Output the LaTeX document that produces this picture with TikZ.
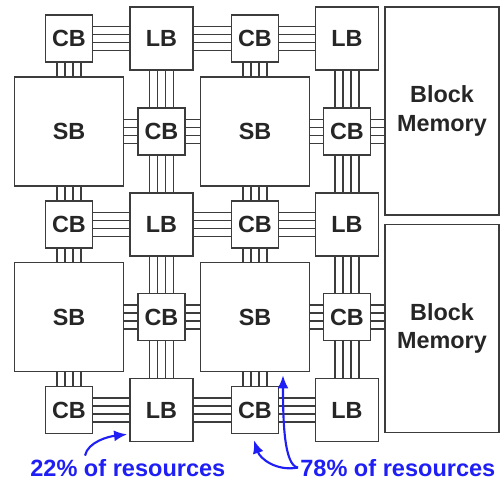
\documentclass[tikz,border=0pt]{standalone}
\usepackage{fontspec}
\setmainfont{Liberation Sans}
\usetikzlibrary{calc,arrows.meta}

\definecolor{boxgray}{RGB}{60,60,60}
\definecolor{resblue}{RGB}{30,30,245}

% buses of four wires between two blocks
\newcommand\hbus[2]{\foreach \d in {-12,-4,4,12} \draw[wire] ($(#1.east)+(0,\d)$) -- ($(#2.west |- #1.east)+(0,\d)$);}
\newcommand\vbus[2]{\foreach \d in {-12,-4,4,12} \draw[wire] ($(#1.south)+(\d,0)$) -- ($(#2.north -| #1.south)+(\d,0)$);}

\begin{document}
\begin{tikzpicture}[x=0.2mm, y=-0.2mm,
  blk/.style={draw=boxgray, line width=1pt, fill=white, text=black!85,
    font=\fontsize{13.3}{16}\selectfont\bfseries, inner sep=0pt},
  cb/.style={blk, minimum size=9.4mm},
  lb/.style={blk, minimum size=12.6mm},
  sb/.style={blk, minimum size=21.8mm},
  mem/.style={blk, minimum width=22.8mm, minimum height=41.6mm, align=center},
  wire/.style={boxgray, line width=0.9pt},
  pct/.style={text=resblue, font=\fontsize{13.4}{16}\selectfont\bfseries, inner sep=0pt},
  res/.style={resblue, line width=1.2pt, -{Latex[length=2.6mm,width=2.2mm]}}]
  \useasboundingbox (0,0) rectangle (501,483);

  % grid of blocks
  \foreach \r/\y in {1/38.5,3/224.5,5/410} {
    \node[cb] (n\r1) at (69,\y)    {CB};
    \node[lb] (n\r2) at (161.5,\y) {LB};
    \node[cb] (n\r3) at (255,\y)   {CB};
    \node[lb] (n\r4) at (347,\y)   {LB};
  }
  \foreach \r/\y in {2/131.5,4/317} {
    \node[sb] (n\r1) at (69,\y)    {SB};
    \node[cb] (n\r2) at (161.5,\y) {CB};
    \node[sb] (n\r3) at (255,\y)   {SB};
    \node[cb] (n\r4) at (347,\y)   {CB};
  }
  \node[mem] (mem1) at (442,111)   {Block\\Memory};
  \node[mem] (mem2) at (442,328.5) {Block\\Memory};

  % wiring
  \foreach \r in {1,...,5} {
    \hbus{n\r1}{n\r2}
    \hbus{n\r2}{n\r3}
    \hbus{n\r3}{n\r4}
  }
  \hbus{n24}{mem1}
  \hbus{n44}{mem2}
  \foreach \r/\s in {1/2,2/3,3/4,4/5}
    \foreach \c in {1,...,4} {
      \vbus{n\r\c}{n\s\c}
    }

  % share of resources
  \node[pct, anchor=base west] (pct22) at (30,477)  {22\% of resources};
  \node[pct, anchor=base west] (pct78) at (300,477) {78\% of resources};

  \draw[res] ($(pct22.north west)+(55,-4)$) .. controls +(3,-14) and +(-18,2) .. ($(n52.south west)+(-2,-8)$);
  \draw[res] ($(pct78.west)+(-2,-1)$) .. controls +(-22,4) and +(6,18) .. ($(n53.south)+(-1,6)$);
  \draw[res] ($(pct78.west)+(-2,-1)$) .. controls +(-14,-2) and +(0,45) .. ($(n43.south)+(28,3)$);
\end{tikzpicture}
\end{document}
